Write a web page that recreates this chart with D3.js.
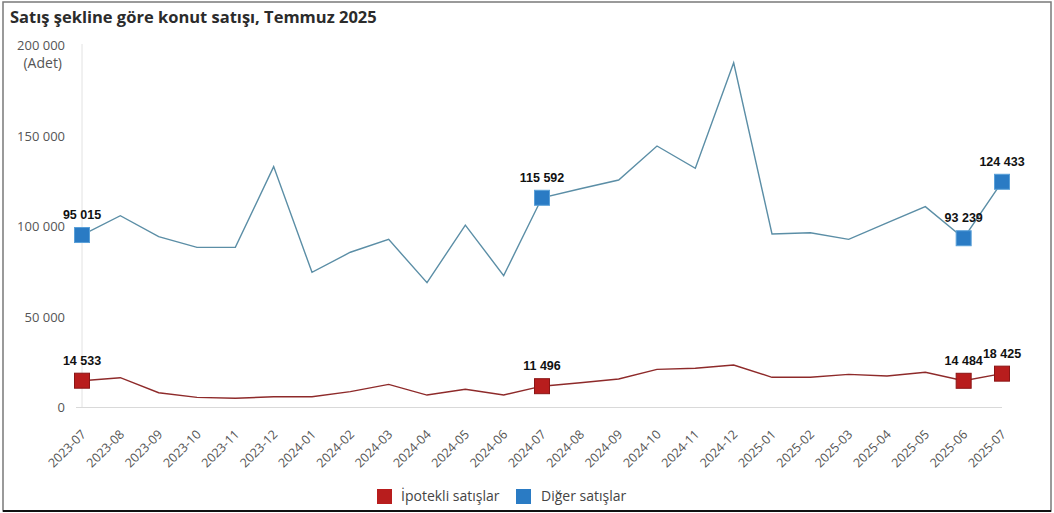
<!DOCTYPE html>
<html><head><meta charset="utf-8">
<script src="https://cdn.jsdelivr.net/npm/d3@7"></script>
<style>
html,body{margin:0;padding:0;background:#fff;}
svg{display:block;}
</style></head>
<body>
<svg id="c" width="1054" height="513"></svg>
<script>
const months = ["2023-07","2023-08","2023-09","2023-10","2023-11","2023-12","2024-01","2024-02","2024-03","2024-04","2024-05","2024-06","2024-07","2024-08","2024-09","2024-10","2024-11","2024-12","2025-01","2025-02","2025-03","2025-04","2025-05","2025-06","2025-07"];
const ipotekli = [14533,16200,7900,5300,4800,5700,5700,8500,12500,6600,9800,6600,11496,13400,15500,20800,21400,23200,16400,16400,18000,17100,19200,14484,18425];
const diger = [95015,105700,94100,88200,88200,132800,74400,85500,92600,68700,100500,72600,115592,120600,125400,144200,131900,190200,95600,96300,92600,101700,110700,93239,124433];
const yTicks = [0,50000,100000,150000,200000];
const labeledIdx = [0,12,23,24];
const seriesNames = ["İpotekli satışlar","Diğer satışlar"];

const svg = d3.select("#c");
const W=1054,H=513;
// frame
svg.append("rect").attr("x",3).attr("y",2).attr("width",W-6).attr("height",H-4)
  .attr("fill","#fff").attr("stroke","#7a7a7a").attr("stroke-width",1.5);
svg.append("line").attr("x1",3).attr("x2",W-3).attr("y1",H-2).attr("y2",H-2).attr("stroke","#111").attr("stroke-width",2);

const x = d3.scalePoint().domain(months).range([82,1002]);
const y = d3.scaleLinear().domain([0,200000]).range([407,45]);
const fmt = v => d3.format(",")(v).replace(/,/g," ");

// title
svg.append("text").attr("x",10).attr("y",23).text("Satış şekline göre konut satışı, Temmuz 2025")
  .attr("font-family","'Open Sans', sans-serif").attr("font-weight",700).attr("font-size",16.5).attr("fill","#2b2b2b");

// left axis line & baseline
svg.append("line").attr("x1",82).attr("x2",82).attr("y1",44).attr("y2",407).attr("stroke","#e2e2e2");
svg.append("line").attr("x1",76).attr("x2",1002).attr("y1",407.5).attr("y2",407.5).attr("stroke","#d9d9d9");

// y ticks
const ya = svg.append("g").attr("transform","translate(65,0)")
  .call(d3.axisLeft(y).tickValues(yTicks).tickSize(0).tickPadding(0).tickFormat(fmt));
ya.select(".domain").remove();
ya.selectAll("text").attr("font-family","'Open Sans', sans-serif").attr("font-size",13).attr("fill","#555")
  .attr("dy","0.35em");
svg.append("text").attr("x",62).attr("y",68).attr("text-anchor","end").text("(Adet)")
  .attr("font-family","'Open Sans', sans-serif").attr("font-size",14).attr("fill","#555");

// x axis
const xa = svg.append("g").attr("transform","translate(-2,429)")
  .call(d3.axisBottom(x).tickSize(0).tickPadding(0));
xa.select(".domain").remove();
xa.selectAll("text").attr("font-family","'Open Sans', sans-serif").attr("font-size",12.5).attr("fill","#555")
  .attr("text-anchor","end").attr("dy","0.7em").attr("dx","0")
  .attr("transform","rotate(-45)");

// lines
const line = d3.line().x((d,i)=>x(months[i])).y(d=>y(d));
svg.append("path").datum(diger).attr("d",line).attr("fill","none").attr("stroke","#5b8ea6").attr("stroke-width",1.4);
svg.append("path").datum(ipotekli).attr("d",line).attr("fill","none").attr("stroke","#8e2a2a").attr("stroke-width",1.4);

const ms = 15;
function markers(data,fill,stroke){
  const g = svg.append("g");
  labeledIdx.forEach(i=>{
    g.append("rect").attr("x",x(months[i])-ms/2).attr("y",y(data[i])-ms/2).attr("width",ms).attr("height",ms)
      .attr("fill",fill).attr("stroke",stroke).attr("stroke-width",1);
    g.append("text").attr("x",x(months[i])).attr("y",y(data[i])-16).attr("text-anchor","middle")
      .attr("font-family","'Liberation Sans', Arial, sans-serif").attr("font-weight",700).attr("font-size",12.5)
      .attr("fill","#111").text(fmt(data[i]));
  });
}
markers(diger,"#2a7bc4","#5aa0d8");
markers(ipotekli,"#b81d1d","#8a1515");

// legend
const lg = svg.append("g").attr("font-family","'Open Sans', sans-serif").attr("font-size",14).attr("fill","#444");
lg.append("rect").attr("x",377).attr("y",489).attr("width",15).attr("height",15).attr("fill","#b81d1d");
lg.append("text").attr("x",401).attr("y",501).attr("fill","#444").text(seriesNames[0]);
lg.append("rect").attr("x",516).attr("y",489).attr("width",15).attr("height",15).attr("fill","#2a7bc4");
lg.append("text").attr("x",541).attr("y",501).attr("fill","#444").text(seriesNames[1]);
</script>
</body></html>
